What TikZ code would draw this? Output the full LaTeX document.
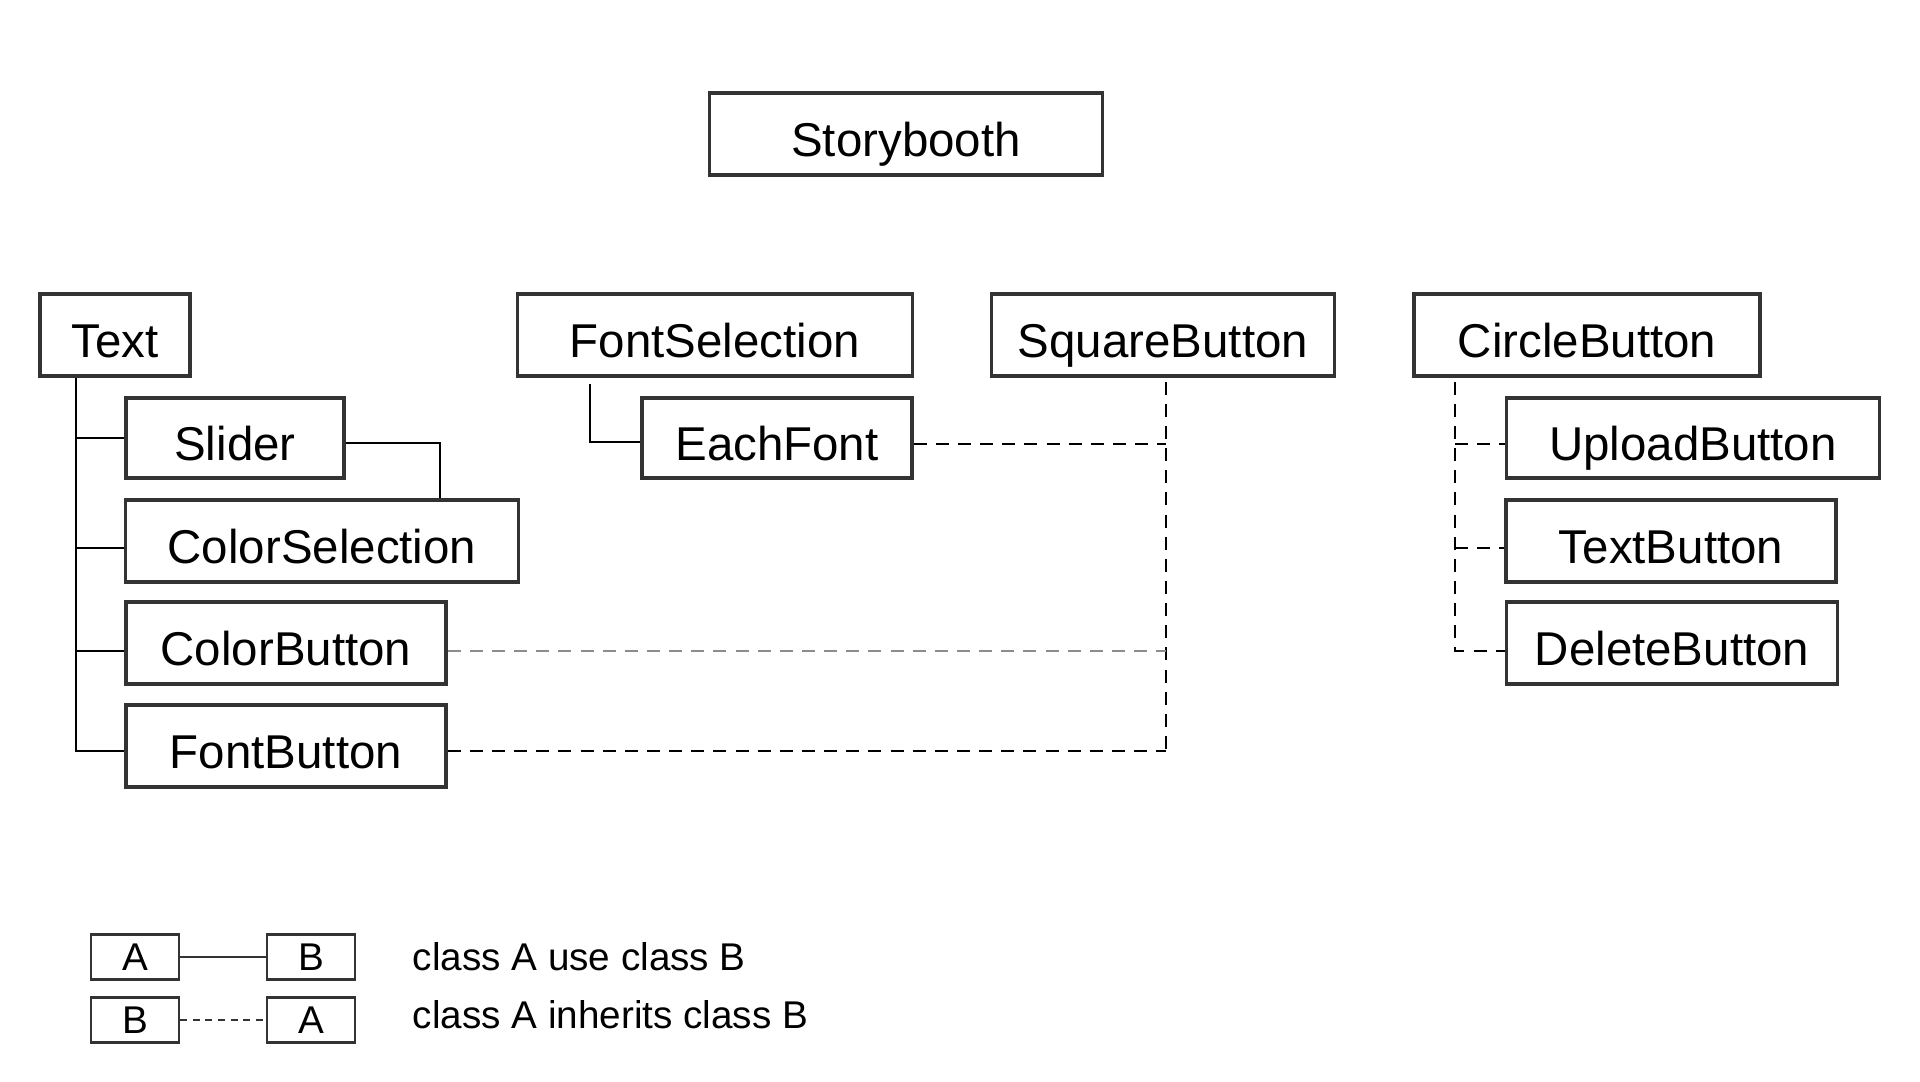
\documentclass[tikz,border=0pt]{standalone}
\usepackage{fontspec}
\setmainfont{Liberation Sans}
\usetikzlibrary{positioning}

\begin{document}
\begin{tikzpicture}[x=0.1mm,y=-0.1mm,
    cls/.style={draw=black!80,line width=1pt,minimum height=8.2mm,inner sep=0pt,
      text height=1.3em,text depth=0pt,font=\fontsize{13.5}{16}\selectfont},
    key/.style={draw=black!80,line width=.6pt,minimum width=8.8mm,minimum height=4.5mm,
      inner sep=0pt,font=\fontsize{11}{13}\selectfont},
    uses/.style={black,line width=.7pt},
    inh/.style={black,line width=.7pt,dash pattern=on 3.7pt off 2.6pt},
    inhlight/.style={inh,black!45}]
  \useasboundingbox (0,0) rectangle (1920,1081);

  \node[cls,minimum width=39.3mm] (story) at (906,134) {Storybooth};

  \node[cls,minimum width=15mm] (text) at (115,335) {Text};
  \node[cls,minimum width=39.5mm] (fontsel) at (715,335) {FontSelection};
  \node[cls,minimum width=34.3mm] (square) at (1163,335) {SquareButton};
  \node[cls,minimum width=34.6mm] (circle) at (1587,335) {CircleButton};

  \node[cls,minimum width=21.8mm,minimum height=8mm] (slider) at (235,438) {Slider};
  \node[cls,minimum width=39.3mm] (colorsel) at (322,541) {ColorSelection};
  \node[cls,minimum width=32mm] (colorbtn) at (286,643) {ColorButton};
  \node[cls,minimum width=32mm] (fontbtn) at (286,746) {FontButton};

  \node[cls,minimum width=27mm,minimum height=8mm] (eachfont) at (777,438) {EachFont};

  \node[cls,minimum width=37.3mm,minimum height=8mm] (upload) at (1693,438) {UploadButton};
  \node[cls,minimum width=33mm] (textbtn) at (1671,541) {TextButton};
  \node[cls,minimum width=33.1mm] (delbtn) at (1672,643) {DeleteButton};

  \coordinate (trunk) at (76,0);
  \coordinate (slidex) at (440,0);
  \coordinate (fontx) at (590,0);
  \coordinate (squarex) at (1166,0);
  \coordinate (circlex) at (1455,0);

  \foreach \c/\d in {slider/0,colorsel/.7,colorbtn/.8,fontbtn/.5}
    \draw[uses] (text.south -| trunk) |- ([yshift=-\d mm]\c.west);
  \draw[uses] ([yshift=-.5mm]slider.east) -| (colorsel.north -| slidex);
  \draw[uses] ([yshift=-.6mm]fontsel.south -| fontx) |- ([yshift=-.4mm]eachfont.west);

  \draw[inh] ([yshift=-.4mm]square.south -| squarex) -- ([yshift=-.5mm]fontbtn.east -| squarex);
  \draw[inh] ([yshift=-.6mm]eachfont.east) -- ([yshift=-.6mm]eachfont.east -| squarex);
  \draw[inhlight] ([yshift=-.8mm]colorbtn.east) -- ([yshift=-.8mm]colorbtn.east -| squarex);
  \draw[inh] ([yshift=-.5mm]fontbtn.east) -- ([yshift=-.5mm]fontbtn.east -| squarex);

  \draw[inh] ([yshift=-.4mm]circle.south -| circlex) |- ([yshift=-.8mm]delbtn.west);
  \draw[inh] ([yshift=-.6mm]upload.west -| circlex) -- ([yshift=-.6mm]upload.west);
  \draw[inh] ([yshift=-.7mm]textbtn.west -| circlex) -- ([yshift=-.7mm]textbtn.west);

  % legend
  \node[key] (ka1) at (135,957) {A};
  \node[key] (kb1) at (311,957) {B};
  \node[key] (kb2) at (135,1020) {B};
  \node[key] (ka2) at (311,1020) {A};
  \draw[black!80,line width=.5pt] (ka1) -- (kb1);
  \draw[black!80,line width=.5pt,dash pattern=on 2pt off 1.6pt] (kb2) -- (ka2);
  \node[right=5.6mm of kb1,font=\fontsize{11}{13}\selectfont,inner sep=0pt] (use) {class A use class B};
  \node[right=5.6mm of ka2,font=\fontsize{11}{13}\selectfont,inner sep=0pt,yshift=.5mm] (inherit) {class A inherits class B};
\end{tikzpicture}
\end{document}
